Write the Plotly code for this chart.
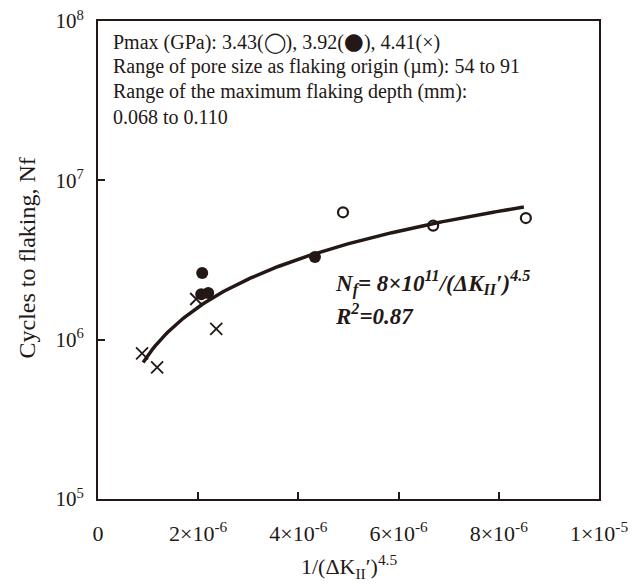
import numpy as np
import plotly.graph_objects as go

# Measured points: x = 1/(dK_II')^4.5, y = cycles to flaking
x_open = [4.89e-6, 6.69e-6, 8.54e-6]          # Pmax 3.43 GPa
y_open = [6.3e6, 5.2e6, 5.8e6]
x_filled = [2.08e-6, 2.06e-6, 2.20e-6, 4.33e-6]  # Pmax 3.92 GPa
y_filled = [2.62e6, 1.93e6, 1.96e6, 3.3e6]
x_cross = [0.88e-6, 1.18e-6, 1.96e-6, 2.36e-6]   # Pmax 4.41 GPa
y_cross = [8.2e5, 6.7e5, 1.80e6, 1.17e6]

# Fit: Nf = 8e11 / (dK_II')^4.5
fit_coef = 8e11
fit_x_range = [0.9e-6, 8.5e-6]

x_tick_vals = [0, 2e-6, 4e-6, 6e-6, 8e-6, 1e-5]
x_tick_text = ["0", "2×10<sup>-6</sup>", "4×10<sup>-6</sup>", "6×10<sup>-6</sup>",
               "8×10<sup>-6</sup>", "1×10<sup>-5</sup>"]
y_tick_vals = [1e5, 1e6, 1e7, 1e8]
y_tick_text = ["10<sup>5</sup>", "10<sup>6</sup>", "10<sup>7</sup>", "10<sup>8</sup>"]

ink = "#231815"
serif = "Liberation Serif, Times New Roman, serif"

fit_x = np.linspace(fit_x_range[0], fit_x_range[1], 200)
fit_y = fit_coef * fit_x

fig = go.Figure()
fig.add_trace(go.Scatter(x=fit_x, y=fit_y, mode="lines",
                         line=dict(color=ink, width=3.5), showlegend=False))
fig.add_trace(go.Scatter(x=x_open, y=y_open, mode="markers", showlegend=False,
                         marker=dict(symbol="circle-open", size=10, color=ink,
                                     line=dict(width=2.2, color=ink))))
fig.add_trace(go.Scatter(x=x_filled, y=y_filled, mode="markers", showlegend=False,
                         marker=dict(symbol="circle", size=12, color=ink)))
fig.add_trace(go.Scatter(x=x_cross, y=y_cross, mode="markers", showlegend=False,
                         marker=dict(symbol="x-thin", size=12, color=ink,
                                     line=dict(width=1.8, color=ink))))

info_lines = [
    "Pmax (GPa): 3.43(◯), 3.92(<span style=\"font-family:DejaVu Sans;font-size:23px\">●</span>), 4.41(×)",
    "Range of pore size as flaking origin (µm): 54 to 91",
    "Range of the maximum flaking depth (mm):",
    "0.068 to 0.110",
]
for i, t in enumerate(info_lines):
    fig.add_annotation(xref="paper", yref="paper", x=0.026, y=0.958 - i * 0.053,
                       xanchor="left", yanchor="middle", showarrow=False, text=t,
                       font=dict(family=serif, size=20, color=ink))

fig.add_annotation(xref="paper", yref="paper", x=0.469, y=0.452,
                   xanchor="left", yanchor="middle", showarrow=False,
                   text="<b><i>N<sub>f</sub>= 8×10<sup>11</sup>/(ΔK<sub>II</sub>′)<sup>4.5</sup></i></b>",
                   font=dict(family=serif, size=23, color=ink))
fig.add_annotation(xref="paper", yref="paper", x=0.469, y=0.387,
                   xanchor="left", yanchor="middle", showarrow=False,
                   text="<b><i>R<sup>2</sup>=0.87</i></b>",
                   font=dict(family=serif, size=23, color=ink))

# Axis titles
fig.add_annotation(xref="paper", yref="paper", x=0.5, y=-0.142,
                   xanchor="center", yanchor="middle", showarrow=False,
                   text="1/(ΔK<sub>II</sub>′)<sup>4.5</sup>",
                   font=dict(family=serif, size=22, color=ink))
fig.add_annotation(xref="paper", yref="paper", x=-0.142, y=0.505,
                   xanchor="center", yanchor="middle", showarrow=False, textangle=-90,
                   text="Cycles to flaking, Nf",
                   font=dict(family=serif, size=24, color=ink))

axis_common = dict(showline=True, linecolor=ink, linewidth=2, mirror=True,
                   ticks="inside", ticklen=7, tickwidth=1.5, tickcolor=ink,
                   showgrid=False, zeroline=False, automargin=False)

fig.update_xaxes(range=[0, 1e-5], tickvals=x_tick_vals, ticktext=x_tick_text,
                 tickfont=dict(family=serif, size=22, color=ink),
                 ticklabelstandoff=14, **axis_common)
fig.update_yaxes(type="log", range=[5, 8], tickvals=y_tick_vals, ticktext=y_tick_text,
                 tickfont=dict(family=serif, size=21, color=ink),
                 ticklabelstandoff=8, **axis_common)

fig.update_layout(width=642, height=584, margin=dict(l=98, r=43, t=21, b=85),
                  plot_bgcolor="white", paper_bgcolor="white")

fig.write_html("out.html")
